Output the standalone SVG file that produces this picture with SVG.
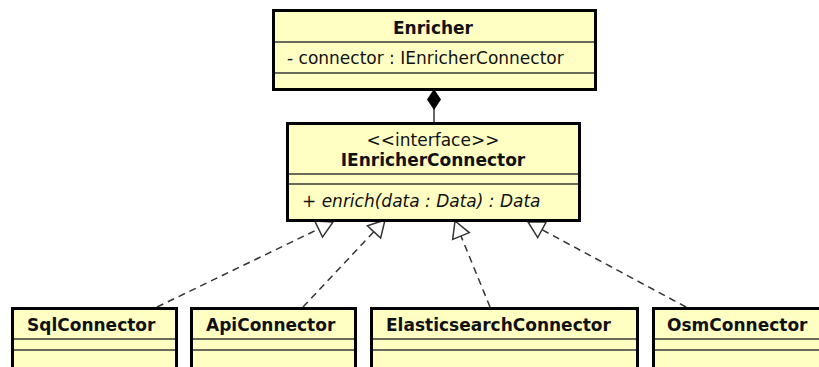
<svg xmlns="http://www.w3.org/2000/svg" width="819" height="367" viewBox="0 0 819 367">
  <style>
    .box { fill: #ffffc4; stroke: #000; stroke-width: 3; }
    .div { stroke: #3a3a3a; stroke-width: 1.5; }
    text { font-family: "DejaVu Sans", "Liberation Sans", sans-serif; font-size: 17px; fill: #111; }
    .title { font-weight: bold; }
    .mid { text-anchor: middle; }
    .op { font-style: italic; }
    .dash { stroke: #333; stroke-width: 1.5; stroke-dasharray: 7 5; fill: none; }
    .head { fill: #fff; stroke: #333; stroke-width: 1.5; }
  </style>

  <!-- connectors drawn first so class boxes sit over the arrow tips -->
  <g id="connectors">
    <!-- composition: Enricher owns IEnricherConnector -->
    <line x1="434" y1="108" x2="434" y2="123" stroke="#333" stroke-width="1.5"/>
    <polygon points="434,89 441,99.5 434,110 427,99.5" fill="#000"/>

    <!-- realizations -->
    <line class="dash" x1="157" y1="307" x2="318.6" y2="229"/>
    <polygon class="head" points="333,222 322.5,237.1 314.7,220.9"/>

    <line class="dash" x1="303" y1="307" x2="374" y2="231.6"/>
    <polygon class="head" points="385,220 380.6,238.1 367.4,225.8"/>

    <line class="dash" x1="490" y1="307" x2="461" y2="236"/>
    <polygon class="head" points="455,221 469.3,232.6 452.7,239.4"/>

    <line class="dash" x1="686" y1="307" x2="542" y2="229.7"/>
    <polygon class="head" points="528,222 546.3,221.8 537.7,237.6"/>
  </g>

  <g id="Enricher">
    <rect class="box" x="273.5" y="10.5" width="322" height="79"/>
    <line class="div" x1="275" y1="42" x2="594" y2="42"/>
    <line class="div" x1="275" y1="73" x2="594" y2="73"/>
    <text class="title mid" x="433" y="34">Enricher</text>
    <text x="287" y="64">- connector : IEnricherConnector</text>
  </g>

  <g id="IEnricherConnector">
    <rect class="box" x="287.5" y="123.5" width="292" height="97"/>
    <line class="div" x1="289" y1="174" x2="578" y2="174"/>
    <line class="div" x1="289" y1="184" x2="578" y2="184"/>
    <text class="mid" x="433" y="146">&lt;&lt;interface&gt;&gt;</text>
    <text class="title mid" x="433" y="166">IEnricherConnector</text>
    <text class="op" x="302" y="207">+ enrich(data : Data) : Data</text>
  </g>

  <g id="SqlConnector">
    <rect class="box" x="12.5" y="308.5" width="164" height="64"/>
    <line class="div" x1="14" y1="339" x2="175" y2="339"/>
    <line class="div" x1="14" y1="350" x2="175" y2="350"/>
    <text class="title" x="27" y="331">SqlConnector</text>
  </g>

  <g id="ApiConnector">
    <rect class="box" x="191.5" y="308.5" width="164" height="64"/>
    <line class="div" x1="193" y1="339" x2="354" y2="339"/>
    <line class="div" x1="193" y1="350" x2="354" y2="350"/>
    <text class="title" x="206" y="331">ApiConnector</text>
  </g>

  <g id="ElasticsearchConnector">
    <rect class="box" x="371.5" y="308.5" width="266" height="64"/>
    <line class="div" x1="373" y1="339" x2="636" y2="339"/>
    <line class="div" x1="373" y1="350" x2="636" y2="350"/>
    <text class="title" x="386" y="331">ElasticsearchConnector</text>
  </g>

  <g id="OsmConnector">
    <rect class="box" x="653.5" y="308.5" width="170" height="64"/>
    <line class="div" x1="655" y1="339" x2="822" y2="339"/>
    <line class="div" x1="655" y1="350" x2="822" y2="350"/>
    <text class="title" x="667" y="331">OsmConnector</text>
  </g>
</svg>
